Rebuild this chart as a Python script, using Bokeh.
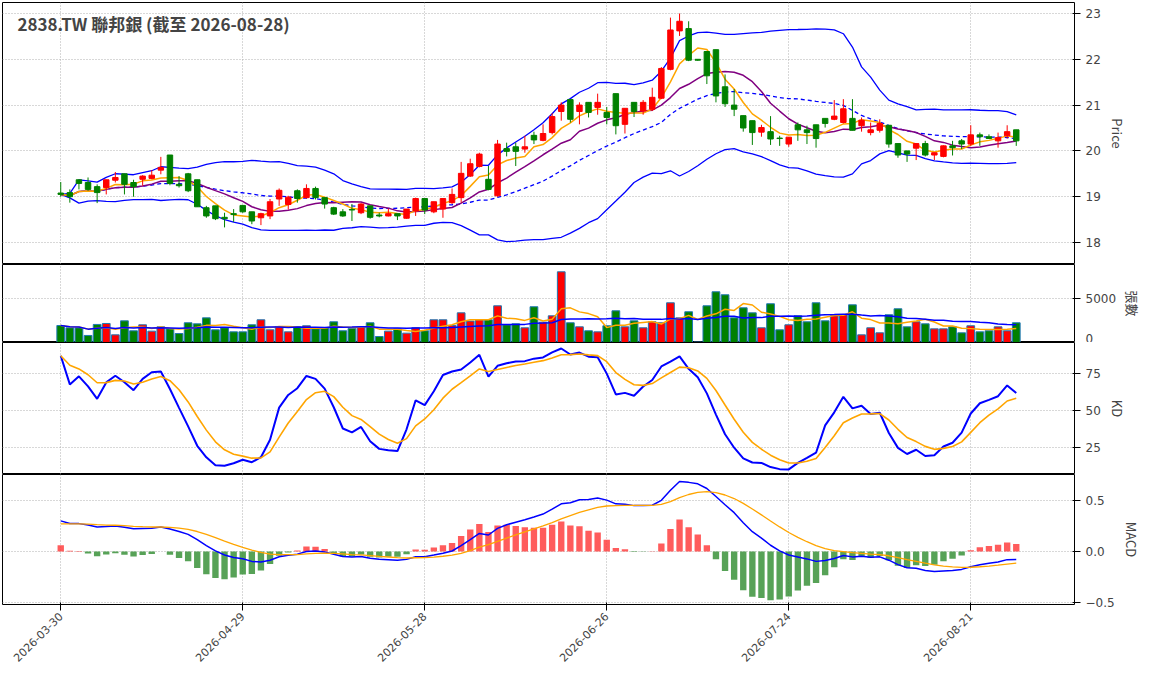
import numpy as np
import pandas as pd
from bokeh.plotting import figure
from bokeh.layouts import column
from bokeh.models import ColumnDataSource, FixedTicker, Range1d, Label
from bokeh.embed import file_html
from bokeh.resources import INLINE

tick_pos = [0, 20, 40, 60, 80, 100]
tick_labels = ["2026-03-30", "2026-04-29", "2026-05-28", "2026-06-26", "2026-07-24", "2026-08-21"]

opens = [19.08,19.09,19.37,19.31,19.22,19.20,19.36,19.50,19.31,19.38,
         19.40,19.58,19.91,19.27,19.50,19.37,18.76,18.80,18.55,18.63,
         18.81,18.67,18.54,18.58,18.95,18.83,19.13,18.98,19.18,18.98,
         18.76,18.67,18.72,18.65,18.80,18.60,18.58,18.63,18.53,18.69,
         18.96,18.67,18.73,18.87,18.98,19.45,19.66,19.38,19.02,20.05,
         20.09,20.04,20.34,20.23,20.40,20.86,21.12,20.86,21.06,20.95,
         20.84,21.25,20.58,21.06,20.87,20.91,21.15,21.78,22.62,22.67,
         22.00,22.17,22.21,21.40,21.00,20.77,20.66,20.41,20.42,20.28,
         20.15,20.57,20.46,20.57,20.71,20.69,20.62,20.71,20.55,20.40,
         20.45,20.56,20.16,20.00,20.06,20.16,19.91,19.88,20.11,20.22,
         20.15,20.35,20.31,20.22,20.33,20.46]
closes = [19.05,19.00,19.29,19.16,19.09,19.37,19.42,19.27,19.22,19.45,
          19.47,19.64,19.29,19.24,19.13,18.78,18.58,18.52,18.52,18.61,
          18.67,18.47,18.63,18.89,19.14,18.99,18.96,19.18,18.98,18.84,
          18.62,18.58,18.71,18.84,18.55,18.58,18.63,18.58,18.73,18.96,
          18.71,18.89,18.96,19.05,19.51,19.72,19.93,19.16,20.15,19.99,
          19.99,20.09,20.24,20.38,20.75,21.00,20.69,21.00,20.84,21.06,
          20.73,20.55,20.93,20.86,21.06,21.17,21.80,22.64,22.83,21.98,
          21.98,21.64,21.20,21.03,20.91,20.50,20.40,20.51,20.26,20.27,
          20.30,20.46,20.40,20.27,20.60,20.76,20.92,20.45,20.67,20.46,
          20.60,20.15,19.91,19.93,20.16,19.91,19.96,20.11,20.07,20.15,
          20.35,20.31,20.27,20.29,20.42,20.22]
highs = [19.32,19.16,19.37,19.42,19.27,19.37,19.54,19.50,19.37,19.47,
         19.58,19.87,19.91,19.45,19.52,19.37,18.80,18.80,18.65,18.73,
         18.81,18.67,18.65,18.95,19.18,19.02,19.16,19.27,19.22,18.98,
         18.78,18.73,18.84,18.86,18.80,18.65,18.74,18.63,18.73,18.98,
         18.96,18.89,18.96,19.18,19.76,19.83,19.96,19.67,20.24,20.18,
         20.18,20.33,20.42,20.58,20.82,21.06,21.12,21.06,21.06,21.25,
         20.96,21.25,20.93,21.06,21.11,21.38,21.83,22.91,23.00,22.83,
         22.00,22.17,22.21,21.67,21.35,20.77,20.66,20.57,20.76,20.33,
         20.30,20.62,20.55,20.57,20.71,21.11,21.13,21.13,20.73,20.62,
         20.69,20.56,20.16,20.00,20.16,20.22,19.96,20.12,20.22,20.26,
         20.56,20.40,20.36,20.40,20.56,20.46]
lows = [19.00,18.87,19.16,19.13,18.86,19.05,19.31,19.05,19.00,19.24,
        19.38,19.49,19.25,19.20,19.10,18.78,18.54,18.49,18.33,18.45,
        18.65,18.40,18.38,18.51,18.80,18.72,18.87,18.96,18.94,18.74,
        18.60,18.56,18.47,18.62,18.52,18.55,18.57,18.49,18.52,18.58,
        18.62,18.64,18.54,18.84,18.87,19.43,19.64,19.14,19.00,19.88,
        19.67,19.96,20.15,20.21,20.36,20.66,20.62,20.58,20.73,20.79,
        20.58,20.36,20.38,20.74,20.79,20.87,21.13,21.76,22.51,21.96,
        21.97,21.46,21.06,20.96,20.76,20.42,20.13,20.31,20.13,20.11,
        20.09,20.22,20.15,20.07,20.51,20.67,20.60,20.45,20.42,20.34,
        20.40,20.07,19.85,19.76,19.80,19.88,19.80,19.86,19.90,20.04,
        20.11,20.11,20.26,20.07,20.27,20.11]
volumes = [1930,1670,1670,800,2050,2160,870,2460,1330,2010,
           1290,1780,1550,1020,2240,2120,2800,1440,1670,1210,
           1210,2010,2580,1440,1820,1210,1780,1900,1550,1670,
           2350,1330,1590,1740,2240,680,1290,1550,1060,1670,
           1330,2580,2580,1930,3370,2430,2580,2580,4170,2010,
           2120,1670,4060,2310,3030,8030,2240,1780,1330,1210,
           1900,3600,1780,2460,1670,2350,2240,4510,2800,3490,
           50,4170,5760,5420,2800,3940,3370,1670,4400,1440,
           2010,3030,2350,4510,2460,3030,3150,4280,870,1670,
           1100,3150,3830,1780,2350,2120,1550,1550,1780,1100,
           1900,1210,1330,1780,1330,2240]
# starting indicator values
k_start, d_start = 87.0, 87.0
dif_start, dea_start = 0.30, 0.27

n = len(closes)
x = np.arange(n)
c = pd.Series(closes); h = pd.Series(highs); l = pd.Series(lows); v = pd.Series(volumes)
ma5 = c.rolling(5, min_periods=1).mean()
ma10 = c.rolling(10, min_periods=1).mean()
ma20 = c.rolling(20, min_periods=1).mean()
sd20 = c.rolling(20, min_periods=1).std(ddof=0)
up = ma20 + 2 * sd20; lo = ma20 - 2 * sd20
vma5 = v.rolling(5, min_periods=1).mean(); vma20 = v.rolling(20, min_periods=1).mean()

hh = h.rolling(9, min_periods=1).max(); ll = l.rolling(9, min_periods=1).min()
rsv = ((c - ll) / (hh - ll).replace(0, np.nan) * 100).fillna(50).values
K = np.zeros(n); D = np.zeros(n); K[0] = k_start; D[0] = d_start
for i in range(1, n):
    K[i] = 2/3 * K[i-1] + 1/3 * rsv[i]
    D[i] = 2/3 * D[i-1] + 1/3 * K[i]
e12 = np.zeros(n); e26 = np.zeros(n); dea = np.zeros(n)
e12[0] = closes[0]; e26[0] = closes[0] - dif_start; dea[0] = dea_start
for i in range(1, n):
    e12[i] = e12[i-1] + 2/13 * (closes[i] - e12[i-1])
    e26[i] = e26[i-1] + 2/27 * (closes[i] - e26[i-1])
dif = e12 - e26
for i in range(1, n):
    dea[i] = dea[i-1] + 0.2 * (dif[i] - dea[i-1])
hist = 2 * (dif - dea)

RED = "#ff0000"; GREEN = "#008000"
cols = [RED if closes[i] > opens[i] else GREEN for i in range(n)]
src = ColumnDataSource(dict(x=x, o=opens, c=closes, h=highs, l=lows,
    top=np.maximum(opens, closes), bot=np.minimum(opens, closes), col=cols, vol=volumes,
    ma5=ma5, ma10=ma10, ma20=ma20, up=up, lo=lo, vma5=vma5, vma20=vma20,
    K=K, D=D, dif=dif, dea=dea, hist=hist,
    hcol=["#ff4040" if hv >= 0 else "#3a923a" for hv in hist]))

xr = Range1d(-6.4, 111.4)
ticker = FixedTicker(ticks=tick_pos)
FW = 1072
FONT = "DejaVu Sans"

def mk(fh, yr, ticks, label, bottom=False, top_border=0):
    p = figure(frame_width=FW, frame_height=fh, x_range=xr, y_range=yr,
               output_backend="svg", toolbar_location=None,
               x_axis_location="below" if bottom else None, y_axis_location="right",
               min_border_left=2, min_border_top=top_border, min_border_bottom=0, min_border_right=0)
    p.outline_line_color = "black"; p.outline_line_alpha = 1
    p.yaxis.ticker = FixedTicker(ticks=ticks)
    p.yaxis.axis_label = label
    p.yaxis.axis_label_text_font_style = "normal"
    p.yaxis.axis_label_text_font = "Noto Sans CJK TC"
    p.yaxis.axis_label_text_font_size = "13px"
    p.yaxis.axis_label_standoff = 4
    p.yaxis.major_label_text_font = FONT
    p.yaxis.major_label_text_font_size = "12px"
    p.yaxis.axis_line_color = None
    p.xgrid.ticker = ticker
    for g in (p.xgrid, p.ygrid):
        g.grid_line_color = "#b0b0b0"; g.grid_line_dash = "1 2"; g.grid_line_width = 1
    p.ygrid.ticker = FixedTicker(ticks=ticks)
    return p

p1 = mk(262, Range1d(17.52, 23.24), [18, 19, 20, 21, 22, 23], "Price", top_border=2)
p1.line("x", "up", source=src, color="blue", line_width=1.3)
p1.line("x", "lo", source=src, color="blue", line_width=1.3)
p1.line("x", "ma20", source=src, color="blue", line_width=1.3, line_dash="4 3")
p1.line("x", "ma10", source=src, color="purple", line_width=1.5)
p1.line("x", "ma5", source=src, color="orange", line_width=1.5)
p1.segment("x", "h", "x", "l", source=src, color="col", line_width=1)
p1.vbar("x", 0.6, "top", "bot", source=src, fill_color="col", line_color="col")
p1.add_layout(Label(x=15, y=241, x_units="screen", y_units="screen",
                    text="2838.TW 聯邦銀 (截至 2026-08-28)", text_font="Noto Sans CJK TC",
                    text_font_size="17px", text_font_style="bold", text_baseline="middle"))

p2 = mk(78, Range1d(0, 8860), [0, 5000], "張數")
p2.vbar("x", 0.85, "vol", 0, source=src, fill_color="col", line_color="#1f77b4", line_width=1)
p2.line("x", "vma5", source=src, color="orange", line_width=1.5)
p2.line("x", "vma20", source=src, color="blue", line_width=1.5)

p3 = mk(132, Range1d(6.8, 95.9), [25, 50, 75], "KD")
p3.line("x", "K", source=src, color="blue", line_width=2)
p3.line("x", "D", source=src, color="orange", line_width=1.6)

p4 = mk(130, Range1d(-0.52, 0.755), [-0.5, 0, 0.5], "MACD", bottom=True)
p4.vbar("x", 0.7, "hist", 0, source=src, fill_color="hcol", line_color=None, fill_alpha=0.85)
p4.line("x", "dif", source=src, color="blue", line_width=1.5)
p4.line("x", "dea", source=src, color="orange", line_width=1.3)
p4.yaxis.major_label_overrides = {-0.5: "−0.5", 0: "0.0", 0.5: "0.5"}
p4.xaxis.ticker = ticker
p4.xaxis.major_label_overrides = {t: s for t, s in zip(tick_pos, tick_labels)}
p4.xaxis.major_label_orientation = 0.785
p4.xaxis.major_label_text_font = FONT
p4.xaxis.major_label_text_font_size = "11px"
p4.xaxis.major_label_standoff = 4
p4.xaxis.axis_line_color = None
p4.min_border_bottom = 0

lay = column(p1, p2, p3, p4, spacing=0)
open("out.html", "w").write(file_html(lay, INLINE))
